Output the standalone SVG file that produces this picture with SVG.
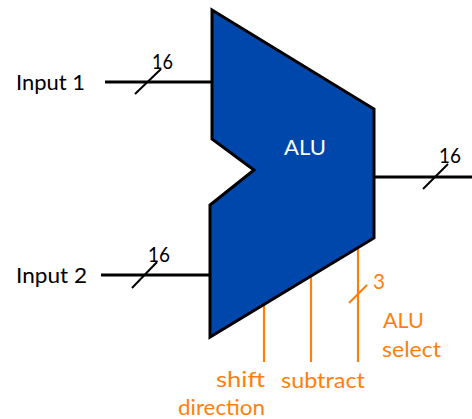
<svg xmlns="http://www.w3.org/2000/svg" width="472" height="419" viewBox="0 0 472 419">
<style>
text{font-family:"Lato","Open Sans","DejaVu Sans",sans-serif;font-size:22px}
.k{fill:#000}.o{fill:#ff7f0e}.w{fill:#fff}
.bus{stroke:#000;stroke-width:3;fill:none}
.tick{stroke:#000;stroke-width:2;fill:none}
.ctl{stroke:#ff7f0e;stroke-width:2.2;fill:none}
</style>
<rect width="472" height="419" fill="#fff"/>
<g id="connectors">
<path class="bus" d="M105 82H212"/>
<path class="tick" d="M135 94L161 69"/>
<path class="bus" d="M101 275H210"/>
<path class="tick" d="M132 288L157 262"/>
<path class="bus" d="M374 177H472"/>
<path class="tick" d="M423 189L448 164"/>
<path class="ctl" d="M264 305V362"/>
<path class="ctl" d="M311 277V362"/>
<path class="ctl" d="M358 248V362"/>
<path class="ctl" d="M349 303L367 285"/>
</g>
<g id="alu">
<path d="M212 10L374 109V238L210 337V205L254 170L212 139Z" fill="#0047ab" stroke="#000" stroke-width="3" stroke-linejoin="miter"/>
<text class="w" x="284" y="155" textLength="42" lengthAdjust="spacingAndGlyphs">ALU</text>
</g>
<g id="input1"><text class="k" x="16" y="90" textLength="69" lengthAdjust="spacingAndGlyphs">Input 1</text></g>
<g id="input2"><text class="k" x="16" y="283" textLength="71" lengthAdjust="spacingAndGlyphs">Input 2</text></g>
<g id="w1"><text class="k" x="152" y="69" textLength="21" lengthAdjust="spacingAndGlyphs">16</text></g>
<g id="w2"><text class="k" x="148" y="262" textLength="22" lengthAdjust="spacingAndGlyphs">16</text></g>
<g id="w3"><text class="k" x="439" y="163" textLength="22" lengthAdjust="spacingAndGlyphs">16</text></g>
<g id="w4"><text class="o" x="373" y="289" textLength="12" lengthAdjust="spacingAndGlyphs">3</text></g>
<g id="sel"><text class="o" x="383" y="328" textLength="41" lengthAdjust="spacingAndGlyphs">ALU</text>
<text class="o" x="382" y="357" textLength="59" lengthAdjust="spacingAndGlyphs">select</text></g>
<g id="shift"><text class="o" x="216" y="387" textLength="49" lengthAdjust="spacingAndGlyphs">shift</text>
<text class="o" x="178" y="415" textLength="87" lengthAdjust="spacingAndGlyphs">direction</text></g>
<g id="subtract"><text class="o" x="281" y="388" textLength="84" lengthAdjust="spacingAndGlyphs">subtract</text></g>
</svg>
